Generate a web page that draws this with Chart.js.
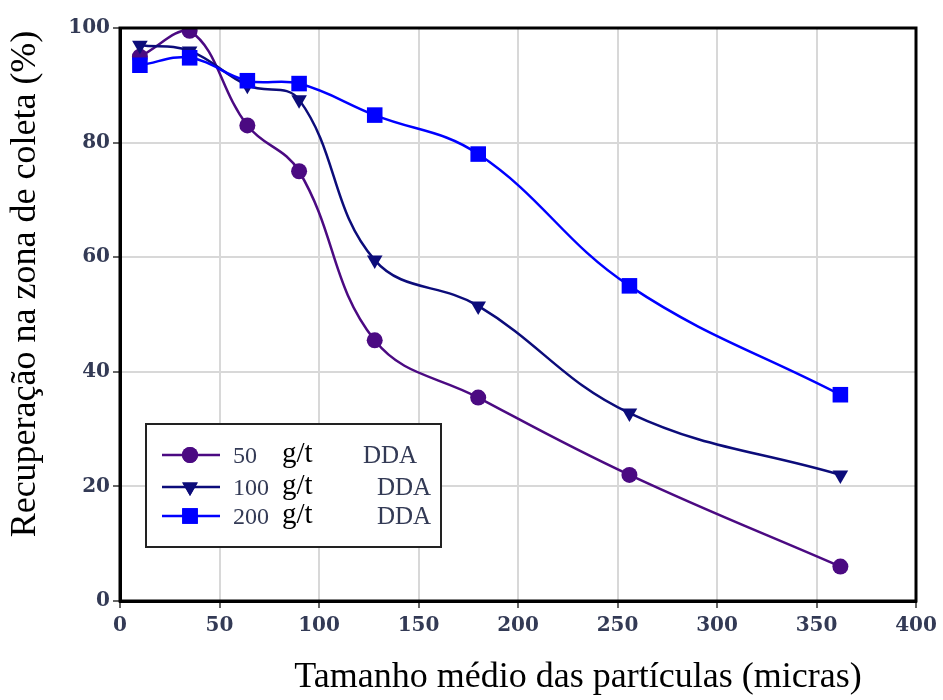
<!DOCTYPE html>
<html>
<head>
<meta charset="utf-8">
<script src="https://cdn.jsdelivr.net/npm/chart.js@4.4.1/dist/chart.umd.min.js"></script>
<style>
html,body{margin:0;padding:0;background:#fff;}
#wrap{position:relative;width:943px;height:700px;}
</style>
</head>
<body>
<div id="wrap"><canvas id="c" width="943" height="700"></canvas></div>
<script>
const particleSizes = [10, 35, 64, 90, 128, 180, 256, 362];
const dose50 = [95, 99.5, 83, 75, 45.5, 35.5, 22, 6];
const dose100 = [97, 96, 90, 87.5, 59.5, 51.5, 32.8, 22];
const dose200 = [93.5, 94.8, 90.8, 90.3, 84.8, 78, 55, 36];
const legendNumbers = ['50', '100', '200'];
const legendUnit = 'g/t';
const legendReagent = 'DDA';
const xTitle = 'Tamanho médio das partículas (micras)';
const yTitle = 'Recuperação na zona de coleta (%)';

const colors = ['#4b0a82', '#0c0c7a', '#0000ff'];
const styles = ['circle', 'triangle', 'rect'];
const radii = [8, 9, 11];
const rotations = [0, 180, 0];
const series = [dose50, dose100, dose200];

function pts(arr){ return particleSizes.map((x,i)=>({x:x,y:arr[i]})); }

const datasets = series.map((s,i)=>({
  label: legendNumbers[i] + ' ' + legendUnit + ' ' + legendReagent,
  data: pts(s),
  borderColor: colors[i],
  backgroundColor: colors[i],
  borderWidth: 2.5,
  pointStyle: styles[i],
  pointRadius: radii[i],
  pointRotation: rotations[i],
  pointBorderWidth: 0,
  pointBackgroundColor: colors[i],
  tension: 0.4,
  order: 2 - i
}));

const tickFont = {family: '"DejaVu Serif", serif', size: 20, weight: 'bold'};
const tickColor = '#333a55';

const framePlugin = {
  id: 'frame',
  afterDatasetsDraw(chart){
    const ctx = chart.ctx, a = chart.chartArea;
    ctx.save();
    ctx.strokeStyle = '#000';
    ctx.lineWidth = 3;
    ctx.strokeRect(a.left, a.top, a.right - a.left, a.bottom - a.top);
    ctx.restore();
  },
  afterDraw(chart){
    const ctx = chart.ctx;
    ctx.save();
    // legend box
    const bx = 146, by = 424, bw = 295, bh = 123;
    ctx.fillStyle = '#fff';
    ctx.fillRect(bx, by, bw, bh);
    ctx.strokeStyle = '#222';
    ctx.lineWidth = 2;
    ctx.strokeRect(bx, by, bw, bh);
    const rows = [455, 487, 516];
    const ddaX = [363, 377, 377];
    rows.forEach((ry, i) => {
      ctx.strokeStyle = colors[i];
      ctx.lineWidth = 2.5;
      ctx.beginPath();
      ctx.moveTo(162, ry); ctx.lineTo(220, ry);
      ctx.stroke();
      ctx.fillStyle = colors[i];
      Chart.helpers.drawPoint(ctx, {pointStyle: styles[i], radius: radii[i], rotation: rotations[i], borderWidth: 0}, 190, ry);
      ctx.fill();
      ctx.textBaseline = 'alphabetic';
      ctx.textAlign = 'left';
      ctx.fillStyle = tickColor;
      ctx.font = '24px "Liberation Serif", serif';
      ctx.fillText(legendNumbers[i], 233, ry + 8);
      ctx.font = '25px "Liberation Serif", serif';
      ctx.fillText(legendReagent, ddaX[i], ry + 8);
      ctx.fillStyle = '#000';
      ctx.font = '29px "Liberation Serif", serif';
      ctx.fillText(legendUnit, 282, ry + 7);
    });
    // axis titles
    ctx.fillStyle = '#000';
    ctx.font = '36px "Liberation Serif", serif';
    ctx.textAlign = 'center';
    ctx.textBaseline = 'alphabetic';
    ctx.fillText(xTitle, 578, 687);
    ctx.translate(35, 284);
    ctx.rotate(-Math.PI/2);
    ctx.fillText(yTitle, 0, 0);
    ctx.restore();
  }
};

new Chart(document.getElementById('c'), {
  type: 'line',
  data: {datasets: datasets},
  options: {
    responsive: false,
    animation: false,
    layout: {padding: {top: 28, right: 27, left: 0, bottom: 0}},
    plugins: {legend: {display: false}, tooltip: {enabled: false}},
    scales: {
      x: {
        type: 'linear', min: 0, max: 400,
        ticks: {stepSize: 50, font: tickFont, color: tickColor, padding: 6, maxRotation: 0},
        grid: {color: '#d8d8d8', lineWidth: 2, tickColor: '#333', tickLength: 7, tickWidth: 1.5},
        border: {display: true, color: '#000', width: 3},
        afterFit(scale){ scale.height = 99; }
      },
      y: {
        min: 0, max: 100,
        ticks: {stepSize: 20, font: tickFont, color: tickColor, padding: 3},
        grid: {color: '#d8d8d8', lineWidth: 2, tickColor: '#333', tickLength: 7, tickWidth: 1.5},
        border: {display: true, color: '#000', width: 3},
        afterFit(scale){ scale.width = 120; }
      }
    }
  },
  plugins: [framePlugin]
});
</script>
</body>
</html>
